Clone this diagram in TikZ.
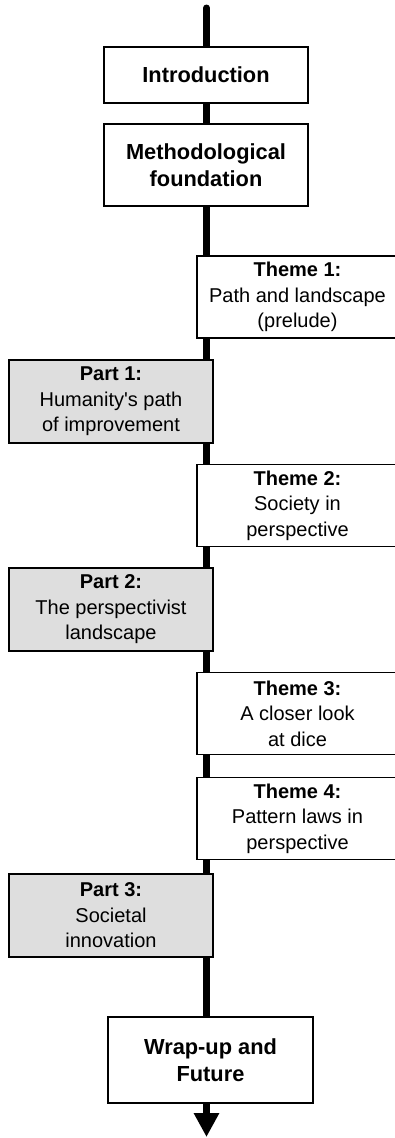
\documentclass[tikz,border=0pt]{standalone}
\usepackage{fontspec}
\setmainfont{Liberation Sans}
\usetikzlibrary{arrows.meta}
\definecolor{partgray}{RGB}{222,222,222}
\tikzset{
    spine/.style={line width=7pt, line cap=round, -{Triangle[width=24pt,length=24pt]}},
    box/.style={draw, line width=1.2pt, fill=white, align=center, inner sep=0pt},
    mainbox/.style={box, minimum width=204pt, font=\bfseries\fontsize{21.8}{26.5}\selectfont},
    themebox/.style={box, minimum width=201pt, minimum height=82pt, font=\fontsize{20}{25.5}\selectfont},
    partbox/.style={themebox, fill=partgray, minimum width=204pt, minimum height=83pt},
}

\begin{document}
\begin{tikzpicture}[x=1pt, y=-1pt]
\useasboundingbox (0,0) rectangle (395,1138);
\clip (0,0) rectangle (395,1138);
% the reading path
\coordinate (top) at (206.5,8);
\coordinate (tip) at (206.5,1137);
\draw[spine] (top) -- (tip);
% main chapters
\node[mainbox, minimum height=56pt] (intro) at (206,75) {Introduction};
\node[mainbox, minimum height=82pt] (method) at (206,165) {Methodological\\foundation};
% themes on the right
\node[themebox] (theme1) at (297.5,297) {\textbf{Theme 1:}\\Path and landscape\\(prelude)};
\node[themebox] (theme2) at (297.5,505.5) {\textbf{Theme 2:}\\Society in\\perspective};
\node[themebox] (theme3) at (297.5,713.5) {\textbf{Theme 3:}\\A closer look\\at dice};
\node[themebox] (theme4) at (297.5,818.5) {\textbf{Theme 4:}\\Pattern laws in\\perspective};
% parts on the left
\node[partbox] (part1) at (111,401.5) {\textbf{Part 1:}\\Humanity\textquotesingle s path\\of improvement};
\node[partbox] (part2) at (111,609.5) {\textbf{Part 2:}\\The perspectivist\\landscape};
\node[partbox] (part3) at (111,915.5) {\textbf{Part 3:}\\Societal\\innovation};
% closing
\node[mainbox, minimum width=205pt, minimum height=86pt] (wrapup) at (210.5,1060) {Wrap-up and\\Future};
\end{tikzpicture}
\end{document}
